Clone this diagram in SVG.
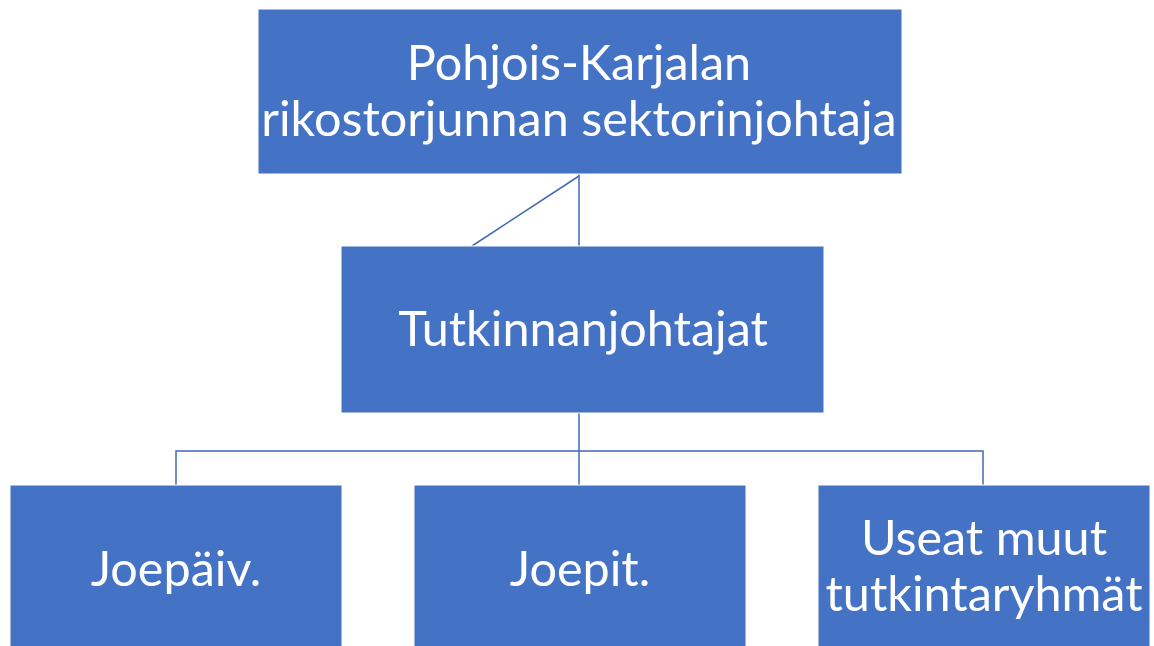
<svg xmlns="http://www.w3.org/2000/svg" width="1154" height="646" viewBox="0 0 1154 646">
<style>
.box{fill:#4472C4;stroke:#ffffff;stroke-width:1}
.t{font-family:Lato,"Open Sans",sans-serif;font-size:48.5px;fill:#ffffff;text-anchor:middle}
.c{fill:none;stroke:#4168B8;stroke-width:1.5}
</style>
<rect width="1154" height="646" fill="#ffffff"/>
<g id="connectors">
<line class="c" x1="579" y1="174" x2="579" y2="246"/>
<line class="c" x1="579" y1="176" x2="472" y2="246"/>
<polyline class="c" points="579,413 579,485"/>
<polyline class="c" points="176,485 176,451 983,451 983,485"/>
</g>
<g id="n1"><rect class="box" x="258" y="9" width="644" height="165"/>
<text class="t" x="579" y="80">Pohjois-Karjalan</text>
<text class="t" x="579" y="136">rikostorjunnan sektorinjohtaja</text></g>
<g id="n2"><rect class="box" x="341" y="246" width="483" height="167"/>
<text class="t" x="583" y="346">Tutkinnanjohtajat</text></g>
<g id="n3"><rect class="box" x="10" y="485" width="332" height="165"/>
<text class="t" x="176" y="586">Joepäiv.</text></g>
<g id="n4"><rect class="box" x="414" y="485" width="332" height="165"/>
<text class="t" x="580" y="586">Joepit.</text></g>
<g id="n5"><rect class="box" x="818" y="485" width="332" height="165"/>
<text class="t" x="984" y="555">Useat muut</text>
<text class="t" x="984" y="611">tutkintaryhmät</text></g>
</svg>
